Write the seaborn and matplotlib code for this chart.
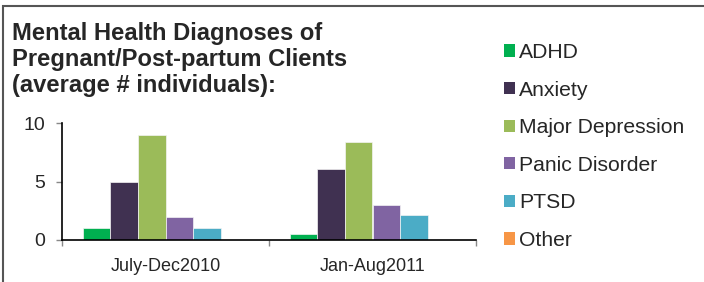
"""Grouped bar chart: mental health diagnoses of pregnant/post-partum clients."""

import matplotlib
matplotlib.use("Agg")
import matplotlib.pyplot as plt
from matplotlib.patches import Patch, Rectangle
import pandas as pd
import seaborn as sns

# Data
periods = ["July-Dec2010", "Jan-Aug2011"]
diagnoses = ["ADHD", "Anxiety", "Major Depression", "Panic Disorder", "PTSD", "Other"]
values_2010 = [1.0, 5.0, 9.0, 2.0, 1.0, 0.0]
values_2011 = [0.5, 6.1, 8.35, 3.0, 2.1, 0.0]
colors = ["#00B050", "#403151", "#9BBB59", "#8064A2", "#4BACC6", "#F79646"]
y_ticks = [0, 5, 10]

sns.set_theme(style="white")
plt.rcParams["font.family"] = ["Liberation Sans", "DejaVu Sans"]

df = pd.DataFrame({
    "period": [periods[0]] * len(diagnoses) + [periods[1]] * len(diagnoses),
    "diagnosis": diagnoses * 2,
    "value": values_2010 + values_2011,
})

W, H = 704, 282
fig = plt.figure(figsize=(W / 100, H / 100), dpi=100)
ax = fig.add_axes([62 / W, (H - 240) / H, (476 - 62) / W, (240 - 123) / H])

sns.barplot(data=df, x="period", y="value", hue="diagnosis", order=periods,
            hue_order=diagnoses, palette=colors, width=0.8, saturation=1,
            edgecolor="#f4f4f4", linewidth=0.5, legend=False, ax=ax)

ax.set_xlim(-0.5, 1.5)
ax.set_ylim(0, 10)
ax.set_yticks(y_ticks)
ax.set_xlabel("")
ax.set_ylabel("")
ax.set_xticks([-0.5, 0.5, 1.5], minor=True)
ax.tick_params(axis="x", which="major", length=0, labelsize=13, pad=13)
ax.tick_params(axis="x", which="minor", length=4, width=1, color="#888888", direction="out", bottom=True)
ax.tick_params(axis="y", length=4, width=1, color="#888888", direction="out", left=True,
               labelsize=14, pad=8)
for side in ["top", "right"]:
    ax.spines[side].set_visible(False)
for side in ["left", "bottom"]:
    ax.spines[side].set_color("black")
    ax.spines[side].set_linewidth(1.2)

fig.text(12 / W, 1 - 22 / H, "Mental Health Diagnoses of\nPregnant/Post-partum Clients\n(average # individuals):",
         fontsize=17.1, fontweight="bold", va="top", ha="left", linespacing=1.17)

handles = [Patch(facecolor=c, edgecolor="none", label=d) for c, d in zip(colors, diagnoses)]
fig.legend(handles=handles, loc="upper left", bbox_to_anchor=(504 / W, 1 - 43 / H),
           frameon=False, fontsize=15.2, handlelength=0.52, handleheight=0.52,
           handletextpad=0.2, labelspacing=0.88, borderpad=0, borderaxespad=0)

# Outer frame (cut at right and bottom edges)
fig.patches.append(Rectangle((3 / W, -0.1), 1.2, 1 - 6 / H + 0.1, transform=fig.transFigure,
                             fill=False, edgecolor="#555555", linewidth=1.5))

fig.savefig("out.png", dpi=100)
plt.close(fig)
